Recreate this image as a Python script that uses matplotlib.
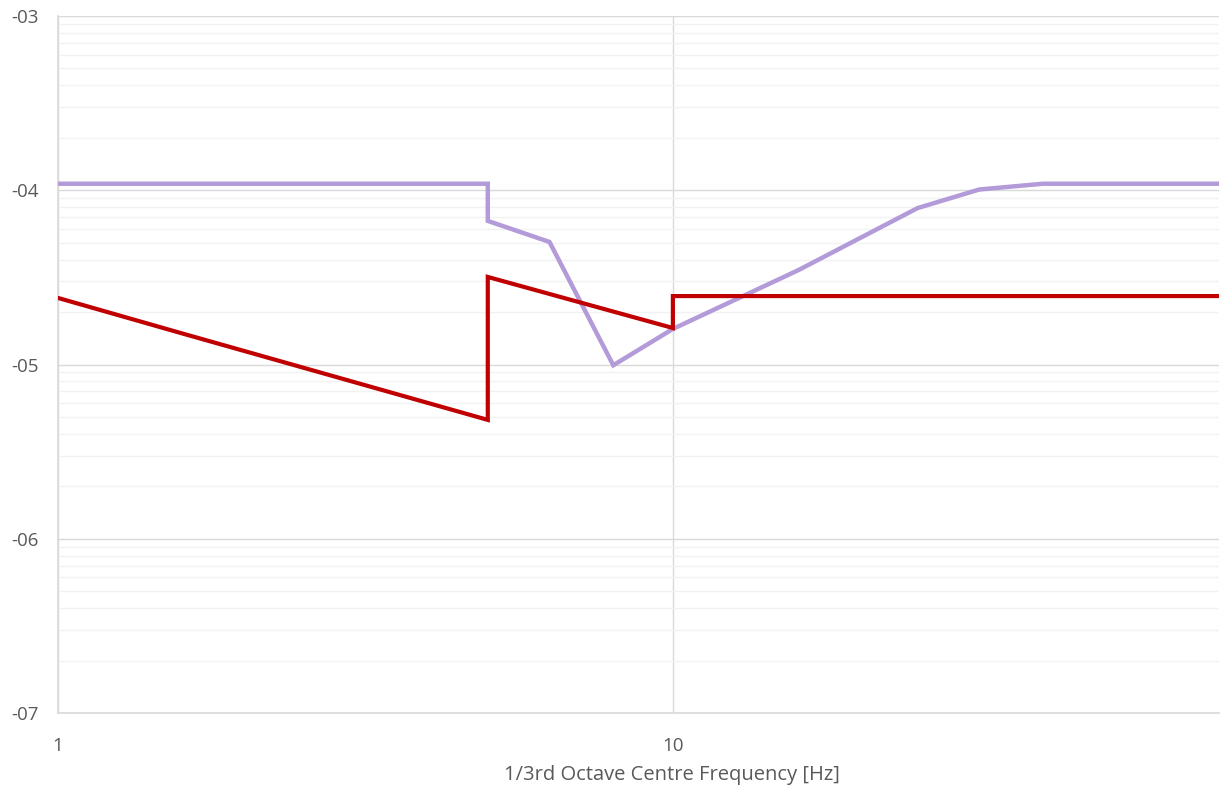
import matplotlib.pyplot as plt
import matplotlib.ticker as mticker
import numpy as np

# values (log-log)
red_freq = [1, 1.6, 5, 5, 10, 10, 77]
red_vals = [2.41e-5, 1.50e-5, 4.81e-6, 3.18e-5, 1.62e-5, 2.47e-5, 2.47e-5]

purple_freq = [1, 5, 5, 6.3, 8, 10, 16, 25, 31.5, 40, 77]
purple_vals = [1.09e-4, 1.09e-4, 6.67e-5, 5.05e-5, 9.9e-6, 1.6e-5, 3.48e-5, 7.9e-5, 1.01e-4, 1.09e-4, 1.09e-4]

plt.rcParams['font.family'] = ['Open Sans', 'DejaVu Sans']

fig = plt.figure(figsize=(12.24, 7.89), dpi=100)
ax = fig.add_axes([58 / 1224, 1 - 713 / 789, (1219 - 58) / 1224, (713 - 16) / 789])

ax.set_xscale('log')
ax.set_yscale('log')
ax.set_xlim(1, 77.3)
ax.set_ylim(1e-7, 1e-3)

ax.plot(purple_freq, purple_vals, color='#b39ad8', linewidth=3.2, solid_joinstyle='miter', zorder=3)
ax.plot(red_freq, red_vals, color='#c00000', linewidth=3.0, solid_joinstyle='miter', zorder=4)

# grid
ax.yaxis.set_major_locator(mticker.LogLocator(base=10, numticks=10))
ax.yaxis.set_minor_locator(mticker.LogLocator(base=10, subs=np.arange(2, 10), numticks=10))
ax.xaxis.set_major_locator(mticker.FixedLocator([1, 10]))
ax.xaxis.set_minor_locator(mticker.NullLocator())
ax.grid(which='major', axis='both', color='#d9d9d9', linewidth=1)
ax.grid(which='minor', axis='y', color='#f2f2f2', linewidth=1)
ax.set_axisbelow(True)

ax.yaxis.set_major_formatter(mticker.FuncFormatter(lambda v, p: '-%02d' % round(-np.log10(v))))
ax.yaxis.set_minor_formatter(mticker.NullFormatter())
ax.xaxis.set_major_formatter(mticker.FuncFormatter(lambda v, p: '%d' % round(v)))

ax.tick_params(which='both', length=0, colors='#595959', labelsize=13.5)
ax.tick_params(axis='x', pad=17)
ax.tick_params(axis='y', pad=14)

for s in ['top', 'right']:
    ax.spines[s].set_visible(False)
for s in ['left', 'bottom']:
    ax.spines[s].set_color('#d9d9d9')
    ax.spines[s].set_linewidth(1.2)

ax.set_xlabel('1/3rd Octave Centre Frequency [Hz]', fontsize=14.5, color='#595959')
ax.xaxis.set_label_coords(0.529, -0.074)

plt.savefig('out.png', dpi=100)
